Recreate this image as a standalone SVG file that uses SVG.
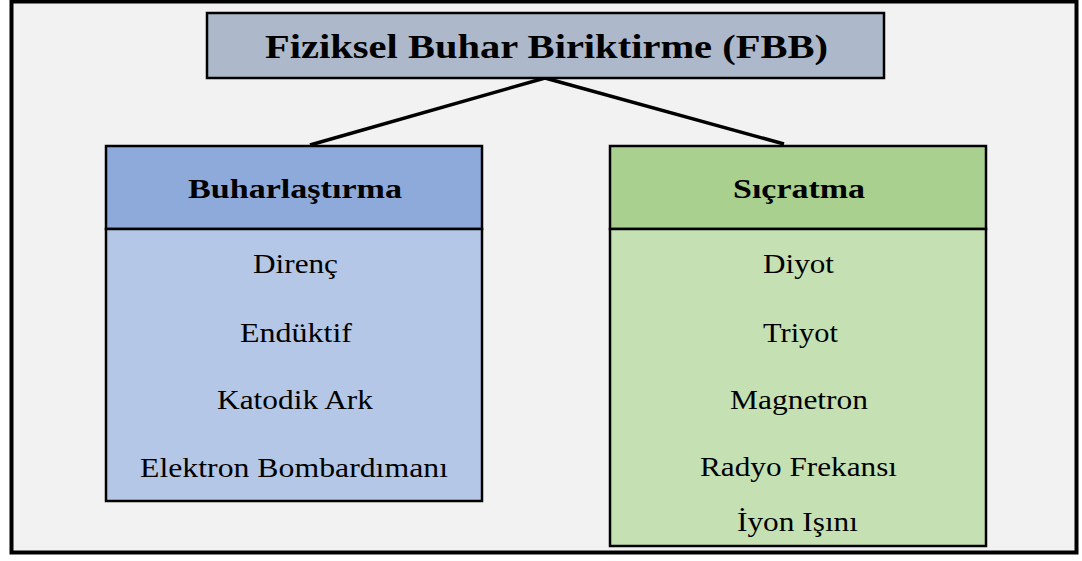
<svg xmlns="http://www.w3.org/2000/svg" width="1082" height="561" viewBox="0 0 1082 561">
<style>
.t{font-family:"Liberation Serif","Times New Roman",serif;fill:#000;text-anchor:middle}
.b{font-weight:bold}
.r{font-size:27px}
.box{stroke:#000;stroke-width:2.5}
.conn{stroke:#000;stroke-width:3.5;fill:none}
</style>
<rect x="0" y="0" width="1082" height="561" fill="#fff"/>
<rect x="11.5" y="1.5" width="1065" height="551" fill="#f2f2f2" stroke="#000" stroke-width="4"/>
<g id="connectors">
<line class="conn" x1="545" y1="78" x2="310" y2="145"/>
<line class="conn" x1="545" y1="78" x2="784" y2="144"/>
</g>
<g id="title">
<rect class="box" x="207" y="13" width="677" height="65" fill="#adb9ca"/>
<text class="t b" x="546.5" y="58" font-size="34" textLength="563" lengthAdjust="spacingAndGlyphs">Fiziksel Buhar Biriktirme (FBB)</text>
</g>
<g id="buharlastirma">
<rect class="box" x="106" y="146" width="376" height="83" fill="#8eaadb"/>
<rect class="box" x="106" y="229" width="376" height="272" fill="#b4c7e7"/>
<text class="t b" x="295" y="198" font-size="28" textLength="214" lengthAdjust="spacingAndGlyphs">Buharlaştırma</text>
<text class="t r" x="295.5" y="273" textLength="85" lengthAdjust="spacingAndGlyphs">Direnç</text>
<text class="t r" x="296" y="342" textLength="112" lengthAdjust="spacingAndGlyphs">Endüktif</text>
<text class="t r" x="295" y="409" textLength="156" lengthAdjust="spacingAndGlyphs">Katodik Ark</text>
<text class="t r" x="294" y="477" textLength="308" lengthAdjust="spacingAndGlyphs">Elektron Bombardımanı</text>
</g>
<g id="sicratma">
<rect class="box" x="610" y="146" width="376" height="83" fill="#a9d08e"/>
<rect class="box" x="610" y="229" width="376" height="317" fill="#c5e0b3"/>
<text class="t b" x="799" y="198" font-size="28" textLength="132" lengthAdjust="spacingAndGlyphs">Sıçratma</text>
<text class="t r" x="798.5" y="273" textLength="71" lengthAdjust="spacingAndGlyphs">Diyot</text>
<text class="t r" x="800.5" y="342" textLength="75" lengthAdjust="spacingAndGlyphs">Triyot</text>
<text class="t r" x="799" y="409" textLength="138" lengthAdjust="spacingAndGlyphs">Magnetron</text>
<text class="t r" x="798.5" y="476" textLength="197" lengthAdjust="spacingAndGlyphs">Radyo Frekansı</text>
<text class="t r" x="797.5" y="531" textLength="121" lengthAdjust="spacingAndGlyphs">İyon Işını</text>
</g>
</svg>
